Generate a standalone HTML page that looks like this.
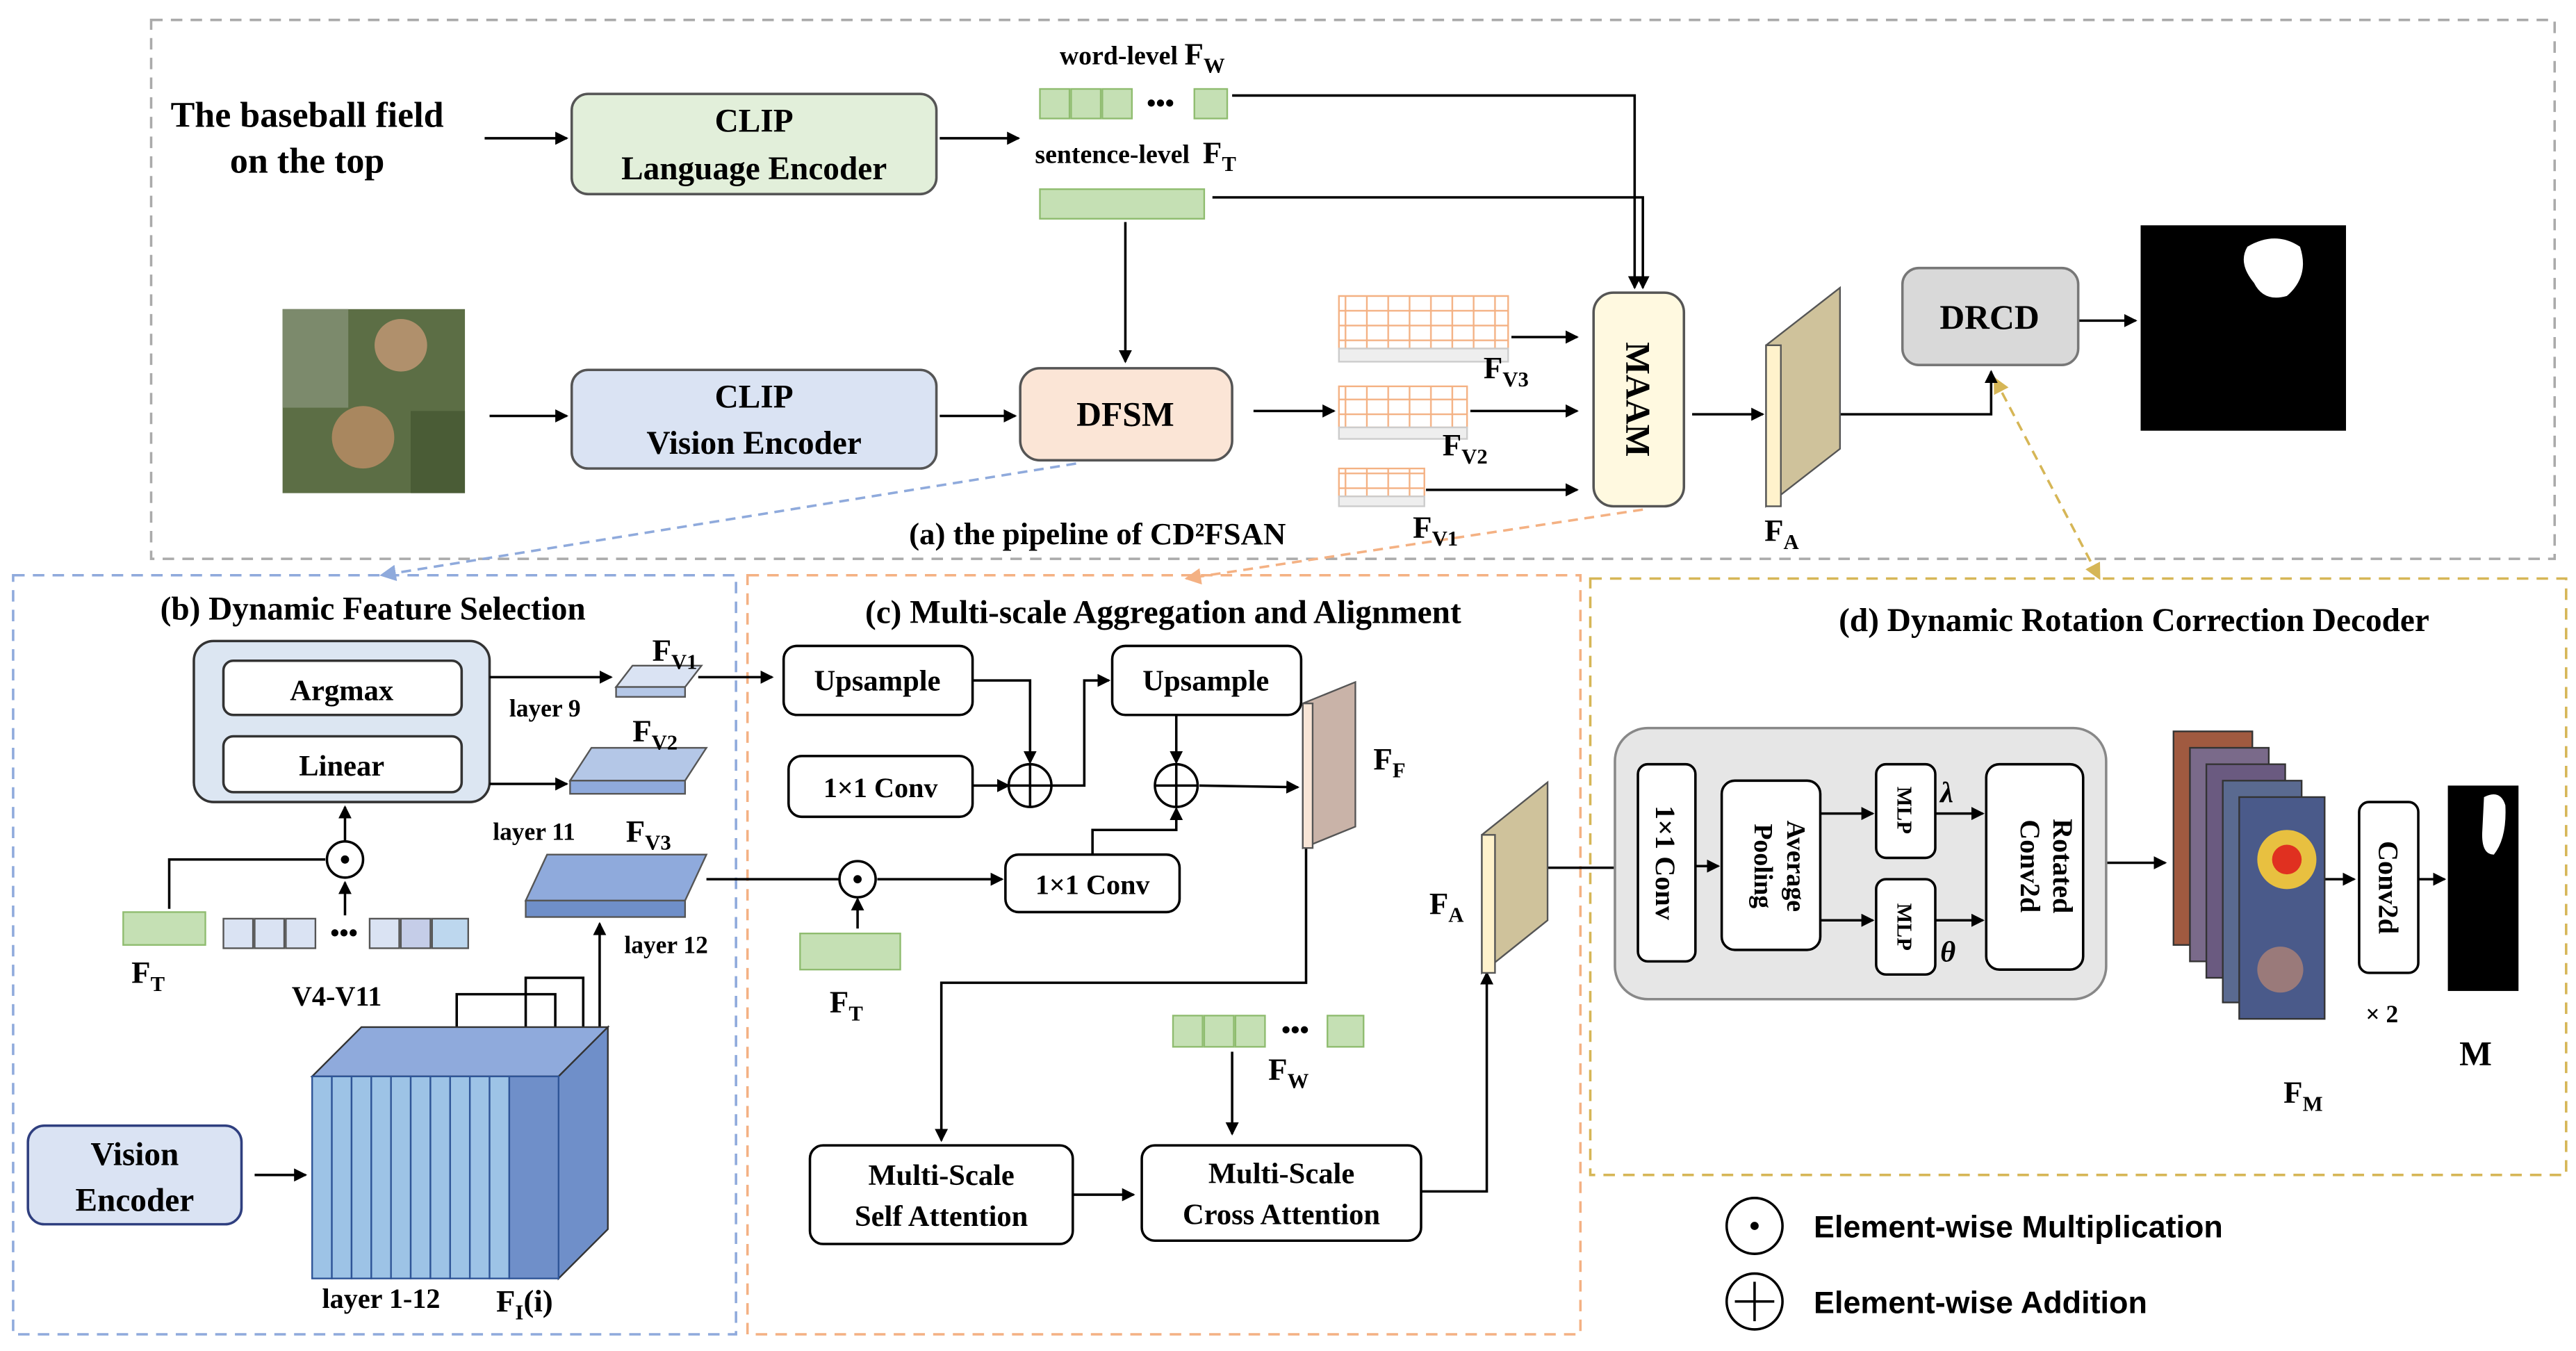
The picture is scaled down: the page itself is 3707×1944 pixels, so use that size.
<!DOCTYPE html>
<html><head><meta charset="utf-8"><style>
html,body{margin:0;padding:0;background:#fff}
svg{display:block}
text{font-family:"Liberation Serif",serif;font-weight:bold;fill:#000}
.s{font-family:"Liberation Sans",sans-serif}
</style></head><body>
<svg width="3707" height="1944" viewBox="0 0 1568 822" xmlns="http://www.w3.org/2000/svg">
<defs>
<marker id="a" markerWidth="8" markerHeight="8" refX="7" refY="4" orient="auto" markerUnits="userSpaceOnUse"><path d="M0,0 L8,4 L0,8 z" fill="#000"/></marker>
<marker id="ab" markerWidth="10" markerHeight="10" refX="9" refY="5" orient="auto" markerUnits="userSpaceOnUse"><path d="M0,0 L10,5 L0,10 z" fill="#8faadc"/></marker>
<marker id="ao" markerWidth="10" markerHeight="10" refX="9" refY="5" orient="auto" markerUnits="userSpaceOnUse"><path d="M0,0 L10,5 L0,10 z" fill="#f4b183"/></marker>
<marker id="ag" markerWidth="10" markerHeight="10" refX="9" refY="5" orient="auto-start-reverse" markerUnits="userSpaceOnUse"><path d="M0,0 L10,5 L0,10 z" fill="#d6b656"/></marker>
<pattern id="grid" width="13" height="9" patternUnits="userSpaceOnUse"><rect width="13" height="9" fill="#fff" stroke="#f4b183" stroke-width="1"/></pattern>
</defs>
<g fill="none" stroke-width="1.5" stroke-dasharray="7,5">
<rect x="92" y="12" width="1463" height="328" stroke="#aaa"/>
<rect x="8" y="350" width="440" height="462" stroke="#8faadc"/>
<rect x="455" y="350" width="507" height="462" stroke="#f4b183"/>
<rect x="968" y="352" width="594" height="363" stroke="#d6b656"/>
</g>
<g stroke-width="1.5" fill="none">
<line x1="655" y1="282" x2="232" y2="350" stroke="#8faadc" stroke-dasharray="6,4" marker-end="url(#ab)"/>
<line x1="1000" y1="310" x2="722" y2="352" stroke="#f4b183" stroke-dasharray="6,4" marker-end="url(#ao)"/>
<line x1="1214" y1="230" x2="1278" y2="352" stroke="#d6b656" stroke-dasharray="6,4" marker-end="url(#ag)" marker-start="url(#ag)"/>
</g>
<!-- (a) -->
<text x="187" y="77" font-size="22" text-anchor="middle">The baseball field</text>
<text x="187" y="105" font-size="22" text-anchor="middle">on the top</text>
<g stroke="#000" stroke-width="1.5" fill="none">
<line x1="295" y1="84" x2="345" y2="84" marker-end="url(#a)"/>
<line x1="572" y1="84" x2="620" y2="84" marker-end="url(#a)"/>
<polyline points="750,58 995,58 995,175" marker-end="url(#a)"/>
<polyline points="738,120 1000,120 1000,175" marker-end="url(#a)"/>
<line x1="685" y1="135" x2="685" y2="220" marker-end="url(#a)"/>
<line x1="298" y1="253" x2="345" y2="253" marker-end="url(#a)"/>
<line x1="572" y1="253" x2="618" y2="253" marker-end="url(#a)"/>
<line x1="763" y1="250" x2="812" y2="250" marker-end="url(#a)"/>
<line x1="920" y1="205" x2="960" y2="205" marker-end="url(#a)"/>
<line x1="895" y1="250" x2="960" y2="250" marker-end="url(#a)"/>
<line x1="868" y1="298" x2="960" y2="298" marker-end="url(#a)"/>
<line x1="1030" y1="252" x2="1073" y2="252" marker-end="url(#a)"/>
<polyline points="1120,252 1212,252 1212,226" marker-end="url(#a)"/>
<line x1="1265" y1="195" x2="1300" y2="195" marker-end="url(#a)"/>
</g>
<rect x="348" y="57" width="222" height="61" rx="10" fill="#e2efda" stroke="#555" stroke-width="1.5"/>
<text x="459" y="80" font-size="20" text-anchor="middle">CLIP</text>
<text x="459" y="109" font-size="20" text-anchor="middle">Language Encoder</text>
<rect x="348" y="225" width="222" height="60" rx="10" fill="#dae3f3" stroke="#555" stroke-width="1.5"/>
<text x="459" y="248" font-size="20" text-anchor="middle">CLIP</text>
<text x="459" y="276" font-size="20" text-anchor="middle">Vision Encoder</text>
<rect x="621" y="224" width="129" height="56" rx="12" fill="#fbe5d6" stroke="#555" stroke-width="1.5"/>
<text x="685" y="259" font-size="21" text-anchor="middle">DFSM</text>
<g fill="#c5e0b4" stroke="#8fbc6f">
<rect x="633" y="54" width="18" height="18"/><rect x="652" y="54" width="18" height="18"/><rect x="671" y="54" width="18" height="18"/><rect x="727" y="54" width="20" height="18"/>
<rect x="633" y="115" width="100" height="18"/>
</g>
<text x="698" y="68" font-size="16">•••</text>
<text x="645" y="39" font-size="16">word-level <tspan font-size="19">F</tspan><tspan font-size="13" dy="5">W</tspan></text>
<text x="630" y="99" font-size="16">sentence-level <tspan font-size="19" dx="4">F</tspan><tspan font-size="13" dy="5">T</tspan></text>
<!-- satellite image -->
<rect x="172" y="188" width="111" height="112" fill="#5c6e45"/>
<rect x="172" y="188" width="40" height="60" fill="#7c8a6c"/>
<rect x="250" y="250" width="33" height="50" fill="#4a5c36"/>
<circle cx="244" cy="210" r="16" fill="#b0906c"/>
<circle cx="221" cy="266" r="19" fill="#a9875f"/>
<!-- FV grids -->
<rect x="815" y="180" width="103" height="32" fill="url(#grid)" stroke="#f4b183"/>
<rect x="815" y="212" width="103" height="8" fill="#eee" stroke="#ccc"/>
<rect x="815" y="235" width="78" height="25" fill="url(#grid)" stroke="#f4b183"/>
<rect x="815" y="260" width="78" height="7" fill="#eee" stroke="#ccc"/>
<rect x="815" y="285" width="52" height="17" fill="url(#grid)" stroke="#f4b183"/>
<rect x="815" y="302" width="52" height="6" fill="#eee" stroke="#ccc"/>
<text x="903" y="230" font-size="19">F<tspan font-size="13" dy="5">V3</tspan></text>
<text x="878" y="277" font-size="19">F<tspan font-size="13" dy="5">V2</tspan></text>
<text x="860" y="327" font-size="19">F<tspan font-size="13" dy="5">V1</tspan></text>
<rect x="970" y="178" width="55" height="130" rx="12" fill="#fff9e0" stroke="#555" stroke-width="1.5"/>
<text transform="translate(990,243) rotate(90)" font-size="21" text-anchor="middle">MAAM</text>
<polygon points="1075,210 1120,175 1120,273 1075,308" fill="#cfc29b" stroke="#555"/>
<rect x="1075" y="210" width="9" height="98" fill="#fff2cc" stroke="#555"/>
<text x="1074" y="329" font-size="19">F<tspan font-size="13" dy="5">A</tspan></text>
<rect x="1158" y="163" width="107" height="59" rx="10" fill="#d9d9d9" stroke="#777" stroke-width="1.5"/>
<text x="1211" y="200" font-size="21" text-anchor="middle">DRCD</text>
<rect x="1303" y="137" width="125" height="125" fill="#000"/>
<path d="M1368,150 Q1385,140 1400,150 Q1406,168 1392,180 Q1378,184 1372,172 Q1362,160 1368,150z" fill="#fff"/>
<text x="668" y="331" font-size="19" text-anchor="middle">(a) the pipeline of CD²FSAN</text>
<!-- (b) -->
<text x="227" y="377" font-size="20" text-anchor="middle">(b) Dynamic Feature  Selection</text>
<rect x="118" y="390" width="180" height="98" rx="12" fill="#dce6f2" stroke="#333" stroke-width="1.5"/>
<rect x="136" y="402" width="145" height="33" rx="6" fill="#fff" stroke="#333" stroke-width="1.5"/>
<text x="208" y="426" font-size="18" text-anchor="middle">Argmax</text>
<rect x="136" y="448" width="145" height="34" rx="6" fill="#fff" stroke="#333" stroke-width="1.5"/>
<text x="208" y="472" font-size="18" text-anchor="middle">Linear</text>
<g stroke="#000" stroke-width="1.5" fill="none">
<line x1="298" y1="412" x2="372" y2="412" marker-end="url(#a)"/>
<line x1="425" y1="412" x2="470" y2="412" marker-end="url(#a)"/>
<line x1="298" y1="477" x2="345" y2="477" marker-end="url(#a)"/>
<line x1="210" y1="512" x2="210" y2="491" marker-end="url(#a)"/>
<polyline points="103,553 103,523 198,523"/>
<line x1="210" y1="557" x2="210" y2="537" marker-end="url(#a)"/>
<line x1="155" y1="715" x2="186" y2="715" marker-end="url(#a)"/>
<polyline points="278,625 278,605 338,605 338,625"/>
<polyline points="320,625 320,595 355,595 355,625"/>
<line x1="365" y1="625" x2="365" y2="562" marker-end="url(#a)"/>
<line x1="430" y1="535" x2="518" y2="535" marker-end="url(#a)"/>
<circle cx="210" cy="523" r="11" fill="#fff"/>
</g>
<circle cx="210" cy="523" r="2.5" fill="#000"/>
<polygon points="375,418 385,405 427,405 417,418" fill="#dae3f3" stroke="#555"/>
<rect x="375" y="418" width="42" height="6" fill="#b4c7e7" stroke="#555"/>
<text x="397" y="402" font-size="19">F<tspan font-size="13" dy="5">V1</tspan></text>
<text x="310" y="436" font-size="15">layer 9</text>
<polygon points="347,475 360,455 430,455 417,475" fill="#b4c7e7" stroke="#555"/>
<rect x="347" y="475" width="70" height="8" fill="#8faadc" stroke="#555"/>
<text x="385" y="451" font-size="19">F<tspan font-size="13" dy="5">V2</tspan></text>
<text x="300" y="511" font-size="15">layer 11</text>
<polygon points="320,548 333,520 430,520 417,548" fill="#8faadc" stroke="#555"/>
<rect x="320" y="548" width="97" height="10" fill="#6f8fc9" stroke="#555"/>
<text x="381" y="512" font-size="19">F<tspan font-size="13" dy="5">V3</tspan></text>
<text x="380" y="580" font-size="15">layer 12</text>
<rect x="75" y="555" width="50" height="20" fill="#c5e0b4" stroke="#8fbc6f"/>
<text x="80" y="598" font-size="19">F<tspan font-size="13" dy="5">T</tspan></text>
<g fill="#dae3f3" stroke="#555">
<rect x="136" y="559" width="18" height="18"/><rect x="155" y="559" width="18" height="18"/><rect x="174" y="559" width="18" height="18"/>
<rect x="225" y="559" width="18" height="18"/><rect x="244" y="559" width="18" height="18" fill="#c5cde8"/><rect x="263" y="559" width="22" height="18" fill="#bdd7ee"/>
</g>
<text x="201" y="573" font-size="16">•••</text>
<text x="205" y="612" font-size="17" text-anchor="middle">V4-V11</text>
<polygon points="190,655 220,625 370,625 340,655" fill="#8faadc" stroke="#333"/>
<polygon points="340,655 370,625 370,748 340,778" fill="#6f8fc9" stroke="#333"/>
<g fill="#9dc3e6" stroke="#2f5597">
<rect x="190" y="655" width="12" height="123"/><rect x="202" y="655" width="12" height="123"/><rect x="214" y="655" width="12" height="123"/><rect x="226" y="655" width="12" height="123"/><rect x="238" y="655" width="12" height="123"/><rect x="250" y="655" width="12" height="123"/><rect x="262" y="655" width="12" height="123"/><rect x="274" y="655" width="12" height="123"/><rect x="286" y="655" width="12" height="123"/><rect x="298" y="655" width="12" height="123"/><rect x="310" y="655" width="30" height="123" fill="#6f8fc9"/>
</g>
<rect x="17" y="685" width="130" height="60" rx="10" fill="#dae3f3" stroke="#2f3f7f" stroke-width="1.5"/>
<text x="82" y="709" font-size="20" text-anchor="middle">Vision</text>
<text x="82" y="737" font-size="20" text-anchor="middle">Encoder</text>
<text x="232" y="796" font-size="17" text-anchor="middle">layer 1-12</text>
<text x="302" y="798" font-size="19">F<tspan font-size="13" dy="5">I</tspan><tspan dy="-5">(i)</tspan></text>
<!-- (c) -->
<text x="708" y="379" font-size="20" text-anchor="middle">(c) Multi-scale Aggregation and Alignment</text>
<g stroke="#000" stroke-width="1.5" fill="none">
<polyline points="592,414 627,414 627,464" marker-end="url(#a)"/>
<line x1="592" y1="478" x2="614" y2="478" marker-end="url(#a)"/>
<polyline points="640,478 660,478 660,414 675,414" marker-end="url(#a)"/>
<line x1="716" y1="435" x2="716" y2="464" marker-end="url(#a)"/>
<line x1="730" y1="478" x2="790" y2="479" marker-end="url(#a)"/>
<polyline points="665,520 665,505 716,505 716,492" marker-end="url(#a)"/>
<line x1="522" y1="565" x2="522" y2="547" marker-end="url(#a)"/>
<line x1="534" y1="535" x2="610" y2="535" marker-end="url(#a)"/>
<polyline points="795,515 795,598 573,598 573,694" marker-end="url(#a)"/>
<line x1="653" y1="727" x2="690" y2="727" marker-end="url(#a)"/>
<line x1="750" y1="640" x2="750" y2="690" marker-end="url(#a)"/>
<polyline points="865,725 905,725 905,592" marker-end="url(#a)"/>
<line x1="942" y1="528" x2="1000" y2="528"/>
<line x1="1282" y1="525" x2="1318" y2="525" marker-end="url(#a)"/>
<line x1="1415" y1="535" x2="1433" y2="535" marker-end="url(#a)"/>
<line x1="1472" y1="535" x2="1488" y2="535" marker-end="url(#a)"/>
</g>
<rect x="477" y="393" width="115" height="42" rx="8" fill="#fff" stroke="#000" stroke-width="1.5"/>
<text x="534" y="420" font-size="18" text-anchor="middle">Upsample</text>
<rect x="480" y="460" width="112" height="37" rx="8" fill="#fff" stroke="#000" stroke-width="1.5"/>
<text x="536" y="485" font-size="17" text-anchor="middle">1×1 Conv</text>
<rect x="677" y="393" width="115" height="42" rx="8" fill="#fff" stroke="#000" stroke-width="1.5"/>
<text x="734" y="420" font-size="18" text-anchor="middle">Upsample</text>
<rect x="612" y="520" width="106" height="35" rx="8" fill="#fff" stroke="#000" stroke-width="1.5"/>
<text x="665" y="544" font-size="17" text-anchor="middle">1×1 Conv</text>
<g stroke="#000" stroke-width="1.5" fill="#fff">
<circle cx="627" cy="478" r="13"/><line x1="614" y1="478" x2="640" y2="478"/><line x1="627" y1="465" x2="627" y2="491"/>
<circle cx="716" cy="478" r="13"/><line x1="703" y1="478" x2="729" y2="478"/><line x1="716" y1="465" x2="716" y2="491"/>
<circle cx="522" cy="535" r="11"/>
</g>
<circle cx="522" cy="535" r="2.5" fill="#000"/>
<polygon points="793,428 825,415 825,503 793,516" fill="#c9b3a8" stroke="#555"/>
<rect x="793" y="428" width="6" height="88" fill="#f8e5d6" stroke="#555"/>
<text x="836" y="468" font-size="19">F<tspan font-size="13" dy="5">F</tspan></text>
<rect x="487" y="568" width="61" height="22" fill="#c5e0b4" stroke="#8fbc6f"/>
<text x="505" y="616" font-size="19">F<tspan font-size="13" dy="5">T</tspan></text>
<g fill="#c5e0b4" stroke="#8fbc6f">
<rect x="714" y="618" width="18" height="19"/><rect x="733" y="618" width="18" height="19"/><rect x="752" y="618" width="18" height="19"/><rect x="808" y="618" width="22" height="19"/>
</g>
<text x="780" y="632" font-size="16">•••</text>
<text x="772" y="657" font-size="19">F<tspan font-size="13" dy="5">W</tspan></text>
<rect x="493" y="697" width="160" height="60" rx="8" fill="#fff" stroke="#000" stroke-width="1.5"/>
<text x="573" y="721" font-size="18" text-anchor="middle">Multi-Scale</text>
<text x="573" y="746" font-size="18" text-anchor="middle">Self Attention</text>
<rect x="695" y="697" width="170" height="58" rx="8" fill="#fff" stroke="#000" stroke-width="1.5"/>
<text x="780" y="720" font-size="18" text-anchor="middle">Multi-Scale</text>
<text x="780" y="745" font-size="18" text-anchor="middle">Cross Attention</text>
<polygon points="902,508 942,476 942,560 902,592" fill="#cfc29b" stroke="#555"/>
<rect x="902" y="508" width="8" height="84" fill="#fff2cc" stroke="#555"/>
<text x="870" y="556" font-size="19">F<tspan font-size="13" dy="5">A</tspan></text>
<!-- (d) -->
<text x="1299" y="384" font-size="20" text-anchor="middle">(d)  Dynamic Rotation Correction Decoder</text>
<rect x="983" y="443" width="299" height="165" rx="20" fill="#e6e6e6" stroke="#888" stroke-width="1.5"/>
<g stroke="#000" stroke-width="1.5" fill="none">
<line x1="1108" y1="495" x2="1140" y2="495" marker-end="url(#a)"/>
<line x1="1108" y1="560" x2="1140" y2="560" marker-end="url(#a)"/>
<line x1="1178" y1="495" x2="1207" y2="495" marker-end="url(#a)"/>
<line x1="1178" y1="560" x2="1207" y2="560" marker-end="url(#a)"/>
<line x1="1032" y1="527" x2="1046" y2="527" marker-end="url(#a)"/>
</g>
<rect x="997" y="465" width="35" height="120" rx="6" fill="#fff" stroke="#000" stroke-width="1.5"/>
<text transform="translate(1008,525) rotate(90)" font-size="17" text-anchor="middle">1×1 Conv</text>
<rect x="1048" y="475" width="60" height="103" rx="8" fill="#fff" stroke="#000" stroke-width="1.5"/>
<text transform="translate(1088,527) rotate(90)" font-size="16" text-anchor="middle">Average</text>
<text transform="translate(1068,527) rotate(90)" font-size="16" text-anchor="middle">Pooling</text>
<rect x="1142" y="465" width="36" height="57" rx="6" fill="#fff" stroke="#000" stroke-width="1.5"/>
<text transform="translate(1155,493) rotate(90)" font-size="13" text-anchor="middle">MLP</text>
<rect x="1142" y="535" width="36" height="58" rx="6" fill="#fff" stroke="#000" stroke-width="1.5"/>
<text transform="translate(1155,564) rotate(90)" font-size="13" text-anchor="middle">MLP</text>
<text x="1181" y="488" font-size="18" font-style="italic" font-weight="normal">λ</text>
<text x="1181" y="585" font-size="18" font-style="italic" font-weight="normal">θ</text>
<rect x="1209" y="465" width="59" height="125" rx="8" fill="#fff" stroke="#000" stroke-width="1.5"/>
<text transform="translate(1250,527) rotate(90)" font-size="17" text-anchor="middle">Rotated</text>
<text transform="translate(1230,527) rotate(90)" font-size="17" text-anchor="middle">Conv2d</text>
<g stroke="#333">
<rect x="1323" y="445" width="48" height="130" fill="#a05a40"/>
<rect x="1333" y="455" width="48" height="130" fill="#7a6a8a"/>
<rect x="1343" y="465" width="48" height="130" fill="#6a5a80"/>
<rect x="1353" y="475" width="48" height="135" fill="#5a6a90"/>
<rect x="1363" y="485" width="52" height="135" fill="#4a5a8a"/>
</g>
<circle cx="1392" cy="523" r="18" fill="#e8c040"/>
<circle cx="1392" cy="523" r="9" fill="#e03020"/>
<circle cx="1388" cy="590" r="14" fill="#9a7a7a"/>
<text x="1390" y="671" font-size="19">F<tspan font-size="13" dy="5">M</tspan></text>
<rect x="1436" y="488" width="36" height="104" rx="6" fill="#fff" stroke="#000" stroke-width="1.5"/>
<text transform="translate(1448,540) rotate(90)" font-size="17" text-anchor="middle">Conv2d</text>
<text x="1440" y="622" font-size="15">× 2</text>
<rect x="1490" y="478" width="43" height="125" fill="#000"/>
<path d="M1512,485 Q1522,480 1525,490 Q1526,510 1518,520 Q1510,520 1511,505z" fill="#fff"/>
<text x="1497" y="648" font-size="21">M</text>
<g stroke="#000" stroke-width="1.5" fill="#fff">
<circle cx="1068" cy="746" r="17"/>
<circle cx="1068" cy="792" r="17"/><line x1="1056" y1="792" x2="1080" y2="792"/><line x1="1068" y1="780" x2="1068" y2="804"/>
</g>
<circle cx="1068" cy="746" r="2.5" fill="#000"/>
<text class="s" x="1104" y="753" font-size="19">Element-wise Multiplication</text>
<text class="s" x="1104" y="799" font-size="19">Element-wise Addition</text>
</svg>
</body></html>
